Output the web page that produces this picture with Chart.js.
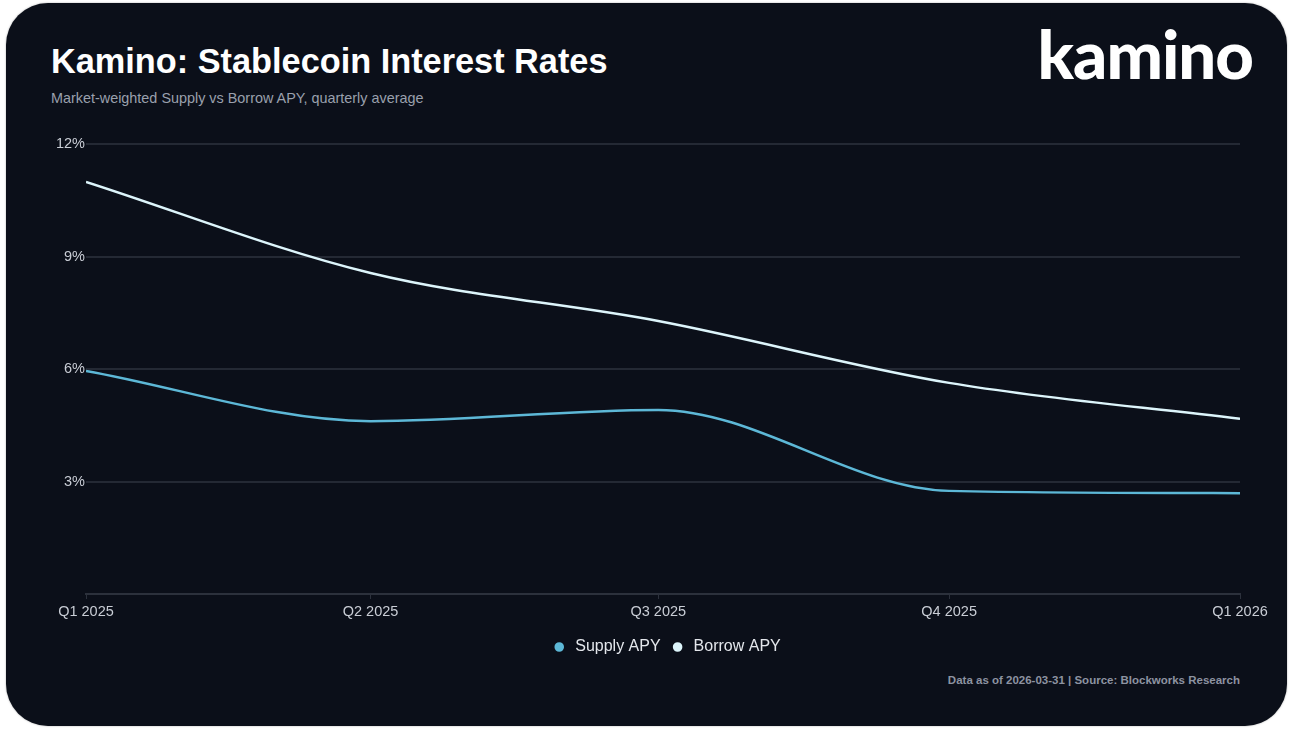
<!DOCTYPE html>
<html>
<head>
<meta charset="utf-8">
<script src="https://cdn.jsdelivr.net/npm/chart.js@4.4.1/dist/chart.umd.min.js"></script>
<style>
  html, body { margin: 0; padding: 0; background: #ffffff; }
  body { width: 1292px; height: 732px; position: relative; overflow: hidden; font-family: "Liberation Sans", Arial, sans-serif; }
  .card { position: absolute; left: 6px; top: 3px; width: 1281px; height: 723px; background: #0b0f19; border-radius: 42px; box-shadow: 0 0 2px rgba(0,0,0,0.35); }
  .title { position: absolute; left: 45px; top: 39px; color: #ffffff; font-size: 34.3px; font-weight: bold; }
  .subtitle { position: absolute; left: 45px; top: 87px; color: #9aa0ad; font-size: 14.4px; }
  .logo { position: absolute; right: 34px; top: 10px; color: #ffffff; font-family: Lato, "Noto Sans", sans-serif; font-size: 67px; font-weight: 900; letter-spacing: -1px; }
  .footer { position: absolute; right: 47px; top: 671px; color: #8d93a1; font-size: 11.5px; font-weight: bold; }
  #wrap { position: absolute; left: 0px; top: 122px; width: 1281px; height: 540px; }
</style>
</head>
<body>
<div class="card">
  <div class="title">Kamino: Stablecoin Interest Rates</div>
  <div class="subtitle">Market-weighted Supply vs Borrow APY, quarterly average</div>
  <div class="logo">kamino</div>
  <div id="wrap"><canvas id="chart"></canvas></div>
  <div class="footer">Data as of 2026-03-31 | Source: Blockworks Research</div>
</div>
<script>
const quarters = ["Q1 2025", "Q2 2025", "Q3 2025", "Q4 2025", "Q1 2026"];
const quarterDates = ["2025-01-01", "2025-04-01", "2025-07-01", "2025-10-01", "2026-01-01"];
const supplyApy = [5.95, 4.61, 4.91, 2.75, 2.69];
const borrowApy = [10.99, 8.56, 7.28, 5.63, 4.67];

const gridColor = "#242934";
const tickColor = "#c9cdd5";

// x as days since the first quarter, so spacing follows the calendar
const t0 = Date.parse(quarterDates[0]);
const dayX = quarterDates.map((d) => (Date.parse(d) - t0) / 86400000);

// centre the legend under the plot area instead of the whole canvas
const legendCenter = {
    id: "legendCenter",
    afterLayout(chart) {
        let lg = chart.legend, ca = chart.chartArea;
        let w = lg.right - lg.left;
        let c = (ca.left + ca.right) / 2 + 3;
        lg.left = c - w / 2;
        lg.right = c + w / 2;
    }
};

new Chart(document.getElementById("chart"), {
    type: "line",
    data: {
        datasets: [
            {
                label: "Supply APY",
                data: supplyApy.map((v, i) => ({ x: dayX[i], y: v })),
                borderColor: "#5db8d7",
                backgroundColor: "#5db8d7",
                borderWidth: 2.5,
                pointRadius: 0,
                cubicInterpolationMode: "monotone"
            },
            {
                label: "Borrow APY",
                data: borrowApy.map((v, i) => ({ x: dayX[i], y: v })),
                borderColor: "#ddf5fb",
                backgroundColor: "#ddf5fb",
                borderWidth: 2.5,
                pointRadius: 0,
                cubicInterpolationMode: "monotone"
            }
        ]
    },
    options: {
        responsive: true,
        maintainAspectRatio: false,
        animation: false,
        layout: { padding: { top: 19, right: 47, bottom: 0, left: 0 } },
        plugins: {
            legend: {
                display: true,
                position: "bottom",
                labels: {
                    usePointStyle: true,
                    pointStyle: "circle",
                    boxWidth: 16,
                    boxHeight: 5,
                    color: "#e4e7ec",
                    padding: 9,
                    font: { family: "Liberation Sans", size: 16 }
                }
            },
            tooltip: { enabled: false }
        },
        scales: {
            x: {
                type: "linear",
                min: dayX[0],
                max: dayX[dayX.length - 1],
                afterBuildTicks: (scale) => { scale.ticks = dayX.map((v) => ({ value: v })); },
                grid: { drawOnChartArea: false, drawTicks: true, tickLength: 5, color: "#2c313c" },
                border: { display: true, color: "#2c313c", width: 2 },
                ticks: {
                    color: tickColor,
                    padding: 4,
                    maxRotation: 0,
                    autoSkip: false,
                    font: { family: "Liberation Sans", size: 14.5 },
                    callback: (v) => quarters[dayX.indexOf(v)]
                },
                afterFit: (scale) => { scale.height = 36; }
            },
            y: {
                min: 0,
                max: 12,
                grid: { color: gridColor, lineWidth: 2, drawTicks: false },
                border: { display: false },
                ticks: {
                    stepSize: 3,
                    color: tickColor,
                    padding: 1,
                    font: { family: "Liberation Sans", size: 14.5 },
                    callback: (v) => v === 0 ? "" : v + "%"
                },
                afterFit: (scale) => { scale.width = 80; }
            }
        }
    },
    plugins: [legendCenter]
});
</script>
</body>
</html>
